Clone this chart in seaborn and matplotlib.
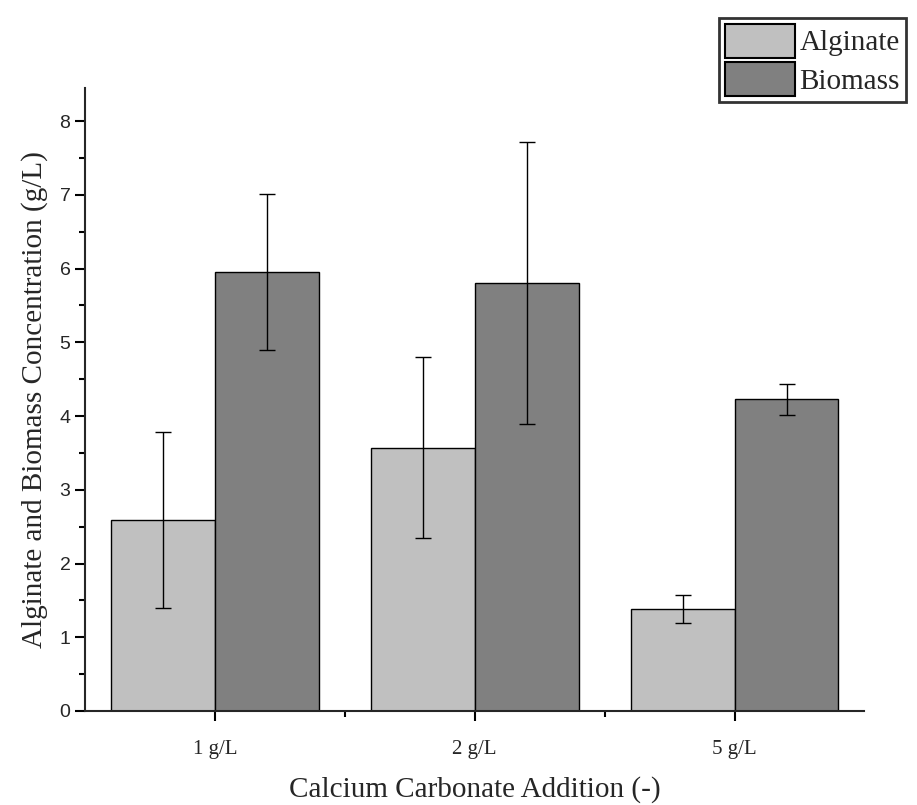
import pandas as pd
import numpy as np
import matplotlib.pyplot as plt
import seaborn as sns
from matplotlib.ticker import MultipleLocator

# ---------- Data ---------- #
doses = ["1 g/L", "2 g/L", "5 g/L"]
series = ["Alginate", "Biomass"]
alginate = [2.59, 3.57, 1.38]
alginate_err = [1.19, 1.23, 0.19]
biomass = [5.95, 5.80, 4.23]
biomass_err = [1.06, 1.91, 0.21]

df = pd.DataFrame({
    "dose": doses * 2,
    "kind": ["Alginate"] * 3 + ["Biomass"] * 3,
    "value": alginate + biomass,
    "err": alginate_err + biomass_err,
})

# ---------- Plot ---------- #
sns.set_theme(style="ticks")
plt.rcParams['font.family'] = ['Liberation Serif', 'DejaVu Serif']

fig = plt.figure(figsize=(9.17, 8.05), dpi=100)
ax = fig.add_axes([0.0927, 0.1168, 0.850, 0.774])

sns.barplot(data=df, x="dose", y="value", hue="kind", order=doses, hue_order=series,
            palette=["#c0c0c0", "#808080"], errorbar=None, width=0.8,
            edgecolor="black", linewidth=1.0, saturation=1, ax=ax)

# error bars on bar centres
for cont, name in zip(ax.containers, series):
    errs = df[df["kind"] == name].set_index("dose").loc[doses, "err"].values
    xs = [p.get_x() + p.get_width() / 2 for p in cont]
    ys = [p.get_height() for p in cont]
    ax.errorbar(xs, ys, yerr=errs, fmt="none", ecolor="black", elinewidth=1.0,
                capsize=6, capthick=1.0)

ax.set_xlim(-0.5, 2.5)
ax.set_ylim(0, 8.45)
ax.yaxis.set_major_locator(MultipleLocator(1))
ax.yaxis.set_minor_locator(MultipleLocator(0.5))
ax.set_xticks([0, 1, 2])
ax.set_xticks([0.5, 1.5], minor=True)

sns.despine(ax=ax)
for s in ["left", "bottom"]:
    ax.spines[s].set_linewidth(1.5)
ax.tick_params(axis="both", which="major", length=7, width=1.5, direction="out", color="black")
ax.tick_params(axis="both", which="minor", length=4, width=1.5, direction="out", color="black")
ax.tick_params(axis="x", which="major", pad=14)

ax.set_xticklabels(doses, fontsize=15)
for lab in ax.get_yticklabels():
    lab.set_family(['Liberation Sans', 'DejaVu Sans'])
    lab.set_fontsize(14)

ax.set_xlabel("Calcium Carbonate Addition (-)", fontsize=21, labelpad=12)
ax.set_ylabel("Alginate and Biomass Concentration (g/L)", fontsize=21, labelpad=8)

leg = ax.legend(title=None, loc="upper left", bbox_to_anchor=(0.814, 1.112), fontsize=21,
                frameon=True, fancybox=False, edgecolor="#333333", framealpha=1,
                borderpad=0.2, labelspacing=0.15, handlelength=2.4, handleheight=1.4,
                handletextpad=0.15, borderaxespad=0)
leg.get_frame().set_linewidth(2)
for h in leg.legend_handles:
    h.set_linewidth(1.5)

fig.savefig("out.png", dpi=100)
plt.close()
